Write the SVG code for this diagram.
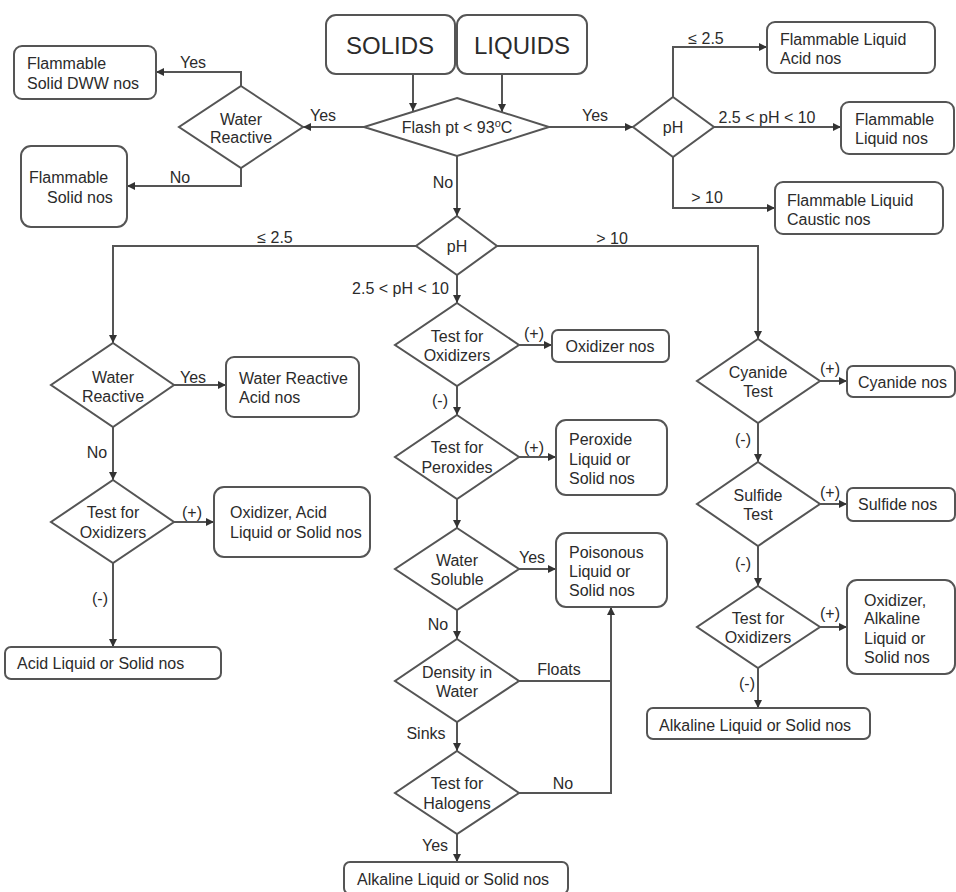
<svg xmlns="http://www.w3.org/2000/svg" width="956" height="892" viewBox="0 0 956 892">
<style>
text{font-family:"Liberation Sans",Arial,sans-serif;font-size:16px;fill:#2b2b2b}
.box{fill:#fff;stroke:#555;stroke-width:2}
.dia{fill:#fff;stroke:#555;stroke-width:2}
.c{text-anchor:middle}
.e{text-anchor:end}
.big{font-size:24px}
.ln{fill:none;stroke:#555;stroke-width:2;marker-end:url(#ah)}
.pl{fill:none;stroke:#555;stroke-width:2}
</style>
<defs>
<marker id="ah" viewBox="0 0 10 10" refX="10" refY="5" markerWidth="4" markerHeight="4" orient="auto" markerUnits="strokeWidth">
<path d="M0,0 L10,5 L0,10 z" fill="#333"/>
</marker>
</defs>
<rect width="956" height="892" fill="#fff"/>
<g id="connectors">
<path class="ln" d="M413,74 V111"/>
<path class="ln" d="M502,74 V112"/>
<path class="ln" d="M364,127 H303"/>
<path class="ln" d="M241,86 V72 H156"/>
<path class="ln" d="M241,168 V186 H127"/>
<path class="ln" d="M549,127 H633"/>
<path class="ln" d="M673,97 V47 H767"/>
<path class="ln" d="M714,127 H841"/>
<path class="ln" d="M673,157 V208 H775"/>
<path class="ln" d="M457,156 V216"/>
<path class="ln" d="M416,246 H113 V343"/>
<path class="ln" d="M457,275 V303"/>
<path class="ln" d="M497,246 H758 V339"/>
<path class="ln" d="M519,345 H552"/>
<path class="ln" d="M457,386 V415"/>
<path class="ln" d="M519,457 H556"/>
<path class="ln" d="M457,499 V528"/>
<path class="ln" d="M519,569 H556"/>
<path class="ln" d="M457,610 V639"/>
<path class="ln" d="M519,681 H611 V607"/>
<path class="ln" d="M457,722 V751"/>
<path class="pl" d="M519,793 H611 V681"/>
<path class="ln" d="M457,834 V862"/>
<path class="ln" d="M174,385 H226"/>
<path class="ln" d="M113,427 V480"/>
<path class="ln" d="M174,522 H214"/>
<path class="ln" d="M113,563 V647"/>
<path class="ln" d="M820,381 H847"/>
<path class="ln" d="M758,423 V462"/>
<path class="ln" d="M820,504 H847"/>
<path class="ln" d="M758,546 V586"/>
<path class="ln" d="M820,627 H847"/>
<path class="ln" d="M758,668 V708"/>
</g>
<g id="labels">
<text class="c" x="193" y="68">Yes</text>
<text class="c" x="180" y="183">No</text>
<text class="c" x="323" y="121">Yes</text>
<text class="c" x="595" y="121">Yes</text>
<text class="c" x="443" y="188">No</text>
<text class="c" x="706" y="44">≤ 2.5</text>
<text class="c" x="767" y="123">2.5 &lt; pH &lt; 10</text>
<text class="c" x="707" y="203">&gt; 10</text>
<text class="c" x="275" y="243">≤ 2.5</text>
<text class="c" x="612" y="244">&gt; 10</text>
<text class="e" x="449" y="294">2.5 &lt; pH &lt; 10</text>
<text class="c" x="534" y="339">(+)</text>
<text class="c" x="440" y="406">(-)</text>
<text class="c" x="534" y="453">(+)</text>
<text class="c" x="532" y="563">Yes</text>
<text class="c" x="438" y="630">No</text>
<text class="c" x="559" y="675">Floats</text>
<text class="c" x="426" y="739">Sinks</text>
<text class="c" x="563" y="789">No</text>
<text class="c" x="435" y="851">Yes</text>
<text class="c" x="193" y="383">Yes</text>
<text class="c" x="97" y="458">No</text>
<text class="c" x="192" y="518">(+)</text>
<text class="c" x="100" y="604">(-)</text>
<text class="c" x="830" y="374">(+)</text>
<text class="c" x="743" y="445">(-)</text>
<text class="c" x="830" y="498">(+)</text>
<text class="c" x="743" y="569">(-)</text>
<text class="c" x="830" y="619">(+)</text>
<text class="c" x="747" y="689">(-)</text>
</g>
<g id="solids"><rect class="box" x="326" y="15" width="129" height="59" rx="10"/><text class="c big" x="390" y="54">SOLIDS</text></g>
<g id="liquids"><rect class="box" x="457" y="15" width="130" height="59" rx="10"/><text class="c big" x="522" y="54">LIQUIDS</text></g>
<g id="flash"><polygon class="dia" points="457,98 549,127 457,156 364,127"/><text class="c" x="457" y="133">Flash pt &lt; 93<tspan font-size="11" dy="-6">o</tspan><tspan dy="6">C</tspan></text></g>
<g id="wr1"><polygon class="dia" points="241,86 303,127 241,168 179,127"/><text class="c" x="241" y="125">Water</text><text class="c" x="241" y="143">Reactive</text></g>
<g id="fsdww"><rect class="box" x="14" y="46" width="142" height="53" rx="8"/><text x="27" y="69">Flammable</text><text x="27" y="89">Solid DWW nos</text></g>
<g id="fsn"><rect class="box" x="21" y="146" width="106" height="81" rx="10"/><text x="29" y="183">Flammable</text><text x="47" y="203">Solid nos</text></g>
<g id="ph1"><polygon class="dia" points="673,97 714,127 673,157 633,127"/><text class="c" x="673" y="133">pH</text></g>
<g id="fla"><rect class="box" x="767" y="22" width="168" height="51" rx="8"/><text x="780" y="45">Flammable Liquid</text><text x="780" y="64">Acid nos</text></g>
<g id="fln"><rect class="box" x="841" y="102" width="113" height="52" rx="8"/><text x="855" y="125">Flammable</text><text x="855" y="144">Liquid nos</text></g>
<g id="flc"><rect class="box" x="775" y="182" width="168" height="52" rx="8"/><text x="787" y="206">Flammable Liquid</text><text x="787" y="225">Caustic nos</text></g>
<g id="ph2"><polygon class="dia" points="457,216 497,246 457,275 416,246"/><text class="c" x="457" y="252">pH</text></g>
<g id="wr2"><polygon class="dia" points="113,343 174,385 113,427 51,385"/><text class="c" x="113" y="383">Water</text><text class="c" x="113" y="402">Reactive</text></g>
<g id="wra"><rect class="box" x="226" y="357" width="133" height="60" rx="8"/><text x="239" y="384">Water Reactive</text><text x="239" y="403">Acid nos</text></g>
<g id="tox1"><polygon class="dia" points="113,480 174,522 113,563 51,522"/><text class="c" x="113" y="518">Test for</text><text class="c" x="113" y="538">Oxidizers</text></g>
<g id="oxa"><rect class="box" x="214" y="487" width="156" height="70" rx="10"/><text x="230" y="518">Oxidizer, Acid</text><text x="230" y="538">Liquid or Solid nos</text></g>
<g id="acid"><rect class="box" x="5" y="647" width="216" height="32" rx="6"/><text x="17" y="669">Acid Liquid or Solid nos</text></g>
<g id="tox2"><polygon class="dia" points="457,303 519,345 457,386 395,345"/><text class="c" x="457" y="342">Test for</text><text class="c" x="457" y="361">Oxidizers</text></g>
<g id="oxn"><rect class="box" x="552" y="330" width="117" height="32" rx="6"/><text class="c" x="610" y="352">Oxidizer nos</text></g>
<g id="tper"><polygon class="dia" points="457,415 519,457 457,499 395,457"/><text class="c" x="457" y="453">Test for</text><text class="c" x="457" y="473">Peroxides</text></g>
<g id="per"><rect class="box" x="556" y="420" width="111" height="75" rx="10"/><text x="569" y="445">Peroxide</text><text x="569" y="465">Liquid or</text><text x="569" y="484">Solid nos</text></g>
<g id="ws"><polygon class="dia" points="457,528 519,569 457,610 395,569"/><text class="c" x="457" y="566">Water</text><text class="c" x="457" y="585">Soluble</text></g>
<g id="poi"><rect class="box" x="556" y="533" width="111" height="74" rx="10"/><text x="569" y="558">Poisonous</text><text x="569" y="577">Liquid or</text><text x="569" y="596">Solid nos</text></g>
<g id="dens"><polygon class="dia" points="457,639 519,681 457,722 395,681"/><text class="c" x="457" y="678">Density in</text><text class="c" x="457" y="697">Water</text></g>
<g id="hal"><polygon class="dia" points="457,751 519,793 457,834 395,793"/><text class="c" x="457" y="789">Test for</text><text class="c" x="457" y="809">Halogens</text></g>
<g id="alk1"><rect class="box" x="344" y="862" width="224" height="32" rx="6"/><text x="357" y="885">Alkaline Liquid or Solid nos</text></g>
<g id="cy"><polygon class="dia" points="758,339 820,381 758,423 697,381"/><text class="c" x="758" y="378">Cyanide</text><text class="c" x="758" y="397">Test</text></g>
<g id="cyn"><rect class="box" x="847" y="366" width="108" height="31" rx="6"/><text x="858" y="388">Cyanide nos</text></g>
<g id="sul"><polygon class="dia" points="758,462 820,504 758,546 697,504"/><text class="c" x="758" y="501">Sulfide</text><text class="c" x="758" y="520">Test</text></g>
<g id="suln"><rect class="box" x="847" y="488" width="108" height="33" rx="6"/><text x="858" y="510">Sulfide nos</text></g>
<g id="tox3"><polygon class="dia" points="758,586 820,627 758,668 697,627"/><text class="c" x="758" y="624">Test for</text><text class="c" x="758" y="643">Oxidizers</text></g>
<g id="oxal"><rect class="box" x="847" y="580" width="108" height="94" rx="10"/><text x="864" y="606">Oxidizer,</text><text x="864" y="624">Alkaline</text><text x="864" y="644">Liquid or</text><text x="864" y="663">Solid nos</text></g>
<g id="alk2"><rect class="box" x="647" y="708" width="223" height="31" rx="6"/><text x="659" y="731">Alkaline Liquid or Solid nos</text></g>
</svg>
